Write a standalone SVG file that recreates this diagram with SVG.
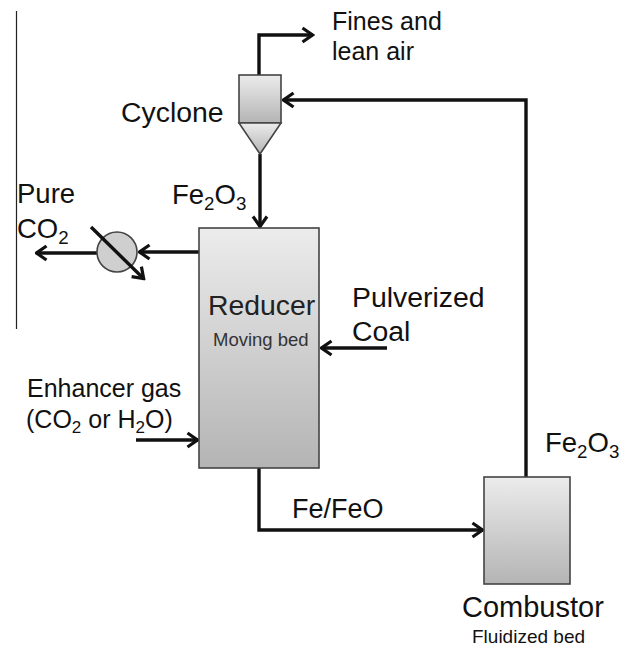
<svg xmlns="http://www.w3.org/2000/svg" width="632" height="648" viewBox="0 0 632 648">
<style>
text{font-family:"Liberation Sans",Arial,sans-serif;fill:#111}
.l{font-size:28.4px}
.m{font-size:25px}
.s{font-size:18.5px}
.sub{font-size:.68em}
.b{stroke:#444;stroke-width:1.6}
.c{fill:none;stroke:#111;stroke-width:3.4}
</style>
<defs>
<linearGradient id="g" x1="0" y1="0" x2="0" y2="1"><stop offset="0" stop-color="#ececec"/><stop offset="1" stop-color="#b4b4b4"/></linearGradient>
<marker id="h" viewBox="0 0 14 18" refX="12.5" refY="9" markerWidth="14" markerHeight="18" markerUnits="userSpaceOnUse" orient="auto"><path d="M2 2L12 9L2 16" fill="none" stroke="#111" stroke-width="3.2"/></marker>
</defs>
<rect width="632" height="648" fill="#fff"/>
<line x1="16.5" y1="11" x2="16.5" y2="329" stroke="#222" stroke-width="1.2"/>
<g id="connectors">
<path class="c" marker-end="url(#h)" d="M259 75V35H313"/>
<path class="c" marker-end="url(#h)" d="M526 477V100H283"/>
<path class="c" marker-end="url(#h)" d="M260 154V227"/>
<path class="c" marker-end="url(#h)" d="M199 252H139"/>
<path class="c" marker-end="url(#h)" d="M97 253H36"/>
<path class="c" marker-end="url(#h)" d="M387 348H321"/>
<path class="c" marker-end="url(#h)" d="M136 440H198"/>
<path class="c" marker-end="url(#h)" d="M259 468V530H483"/>
</g>
<g id="cyclone">
<rect class="b" x="239" y="75" width="42" height="48" fill="url(#g)"/>
<path class="b" d="M239 123H281L260 154Z" fill="url(#g)"/>
<text class="l" x="121" y="122">Cyclone</text>
</g>
<g id="reducer">
<rect class="b" x="199" y="228" width="120" height="240" fill="url(#g)"/>
<text x="208" y="315" font-size="28.4" style="fill:#222">Reducer</text>
<text class="s" x="213" y="346" style="fill:#333">Moving bed</text>
</g>
<g id="combustor">
<rect class="b" x="484" y="477" width="86" height="107" fill="url(#g)"/>
<text x="462" y="617" font-size="29">Combustor</text>
<text x="472" y="643" font-size="19">Fluidized bed</text>
</g>
<g id="condenser">
<circle class="b" cx="117" cy="252" r="20" fill="#cfcfcf"/>
<path class="c" marker-end="url(#h)" d="M91 227L144 279"/>
</g>
<g id="labels">
<text class="m" x="332" y="30">Fines and</text>
<text class="m" x="332" y="60">lean air</text>
<text x="172" y="204" font-size="27.5">Fe<tspan class="sub" dy="6">2</tspan><tspan dy="-6">O</tspan><tspan class="sub" dy="6">3</tspan></text>
<text x="17" y="203" font-size="27.5">Pure</text>
<text x="17" y="238" font-size="27.5">CO<tspan class="sub" dy="6">2</tspan></text>
<text class="l" x="352" y="307">Pulverized</text>
<text class="l" x="352" y="341">Coal</text>
<text class="m" x="27" y="397">Enhancer gas</text>
<text class="m" x="26" y="428">(CO<tspan class="sub" dy="5">2</tspan><tspan dy="-5"> or H</tspan><tspan class="sub" dy="5">2</tspan><tspan dy="-5">O)</tspan></text>
<text x="292" y="518" font-size="27">Fe/FeO</text>
<text x="545" y="452" font-size="27.5">Fe<tspan class="sub" dy="6">2</tspan><tspan dy="-6">O</tspan><tspan class="sub" dy="6">3</tspan></text>
</g>
</svg>
